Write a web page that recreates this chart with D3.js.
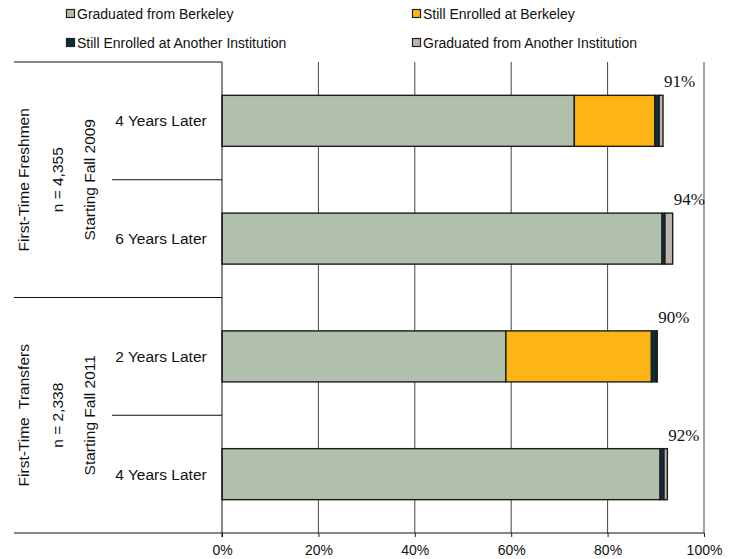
<!doctype html>
<html>
<head>
<meta charset="utf-8">
<style>
  body { margin: 0; background: #fff; }
  svg { font-family: "Liberation Sans", Arial, sans-serif; }
</style>
</head>
<body>
<div id="chart"></div>
<script src="https://cdnjs.cloudflare.com/ajax/libs/d3/7.8.5/d3.min.js"></script>
<script>
  // Data (percent of cohort)
  var rowLabels = ['4 Years Later', '6 Years Later', '2 Years Later', '4 Years Later']
  var groupNames = ['First-Time Freshmen', 'First-Time  Transfers']
  var groupCounts = ['n = 4,355', 'n = 2,338']
  var groupStarts = ['Starting Fall 2009', 'Starting Fall 2011']
  var seriesNames = ['Graduated from Berkeley', 'Still Enrolled at Berkeley',
                     'Still Enrolled at Another Institution', 'Graduated from Another Institution']
  var gradBerkeley = [73.1, 91.3, 58.9, 90.9]
  var stillBerkeley = [16.7, 0, 30.2, 0]
  var stillOther = [0.9, 0.6, 1.0, 0.8]
  var gradOther = [0.8, 1.6, 0.2, 0.7]
  var totalLabels = ['91%', '94%', '90%', '92%']
  var xTicks = [0, 20, 40, 60, 80, 100]

  var colors = ['#b0c0ad', '#fdb515', '#0a2f3f', '#bcb5ad']

  var width = 736, height = 559
  var plot = { left: 222, right: 704, top: 62, bottom: 533 }
  var outerLeft = 14, innerLeft = 112

  var svg = d3.select('#chart').append('svg')
    .attr('width', width)
    .attr('height', height)

  var rows = rowLabels.map((d, i) => ({
    i: i,
    label: d,
    s0: gradBerkeley[i], s1: stillBerkeley[i], s2: stillOther[i], s3: gradOther[i]
  }))

  var x = d3.scaleLinear().domain([0, 100]).range([plot.left, plot.right])
  var y = d3.scaleBand()
    .domain(rows.map(d => d.i))
    .range([plot.top, plot.bottom])
    .paddingInner(0.567)
    .paddingOuter(0.283)

  // band of each row without padding, for the separators
  var rowBand = d3.scaleBand().domain(rows.map(d => d.i)).range([plot.top, plot.bottom])

  // gridlines
  svg.append('g')
    .selectAll('line')
    .data(xTicks.filter(t => t > 0))
    .join('line')
    .attr('x1', d => x(d)).attr('x2', d => x(d))
    .attr('y1', plot.top).attr('y2', plot.bottom)
    .attr('stroke', d => d === 100 ? '#8c8c8c' : '#444')
    .attr('stroke-width', d => d === 100 ? 1.6 : 1)

  // stacked bars
  var stack = d3.stack().keys(['s0', 's1', 's2', 's3'])
  var series = stack(rows)

  svg.append('g')
    .selectAll('g')
    .data(series)
    .join('g')
    .attr('fill', (d, i) => colors[i])
    .selectAll('rect')
    .data(d => d.filter(p => p[1] - p[0] > 0))
    .join('rect')
    .attr('x', d => x(d[0]))
    .attr('width', d => x(d[1]) - x(d[0]))
    .attr('y', d => y(d.data.i))
    .attr('height', y.bandwidth())
    .attr('stroke', '#1c1c1c')
    .attr('stroke-width', 1.4)

  // total labels above bar ends
  svg.append('g')
    .selectAll('text')
    .data(rows)
    .join('text')
    .attr('x', d => x(d.s0 + d.s1 + d.s2 + d.s3) + 1)
    .attr('y', d => y(d.i) - 8)
    .attr('font-family', '"Liberation Serif", "Times New Roman", serif')
    .attr('font-size', 17)
    .attr('fill', '#111')
    .text((d, i) => totalLabels[i])

  // x axis
  var xAxis = svg.append('g')
    .attr('transform', `translate(0,${plot.bottom})`)
    .call(d3.axisBottom(x).tickValues(xTicks).tickFormat(d => d + '%').tickSize(4).tickPadding(8))
  xAxis.select('.domain').remove()
  xAxis.selectAll('.tick line').attr('stroke', '#222')
  xAxis.selectAll('.tick text')
    .attr('font-family', '"Liberation Sans", Arial, sans-serif')
    .attr('font-size', 14)
    .attr('fill', '#111')

  svg.append('line')
    .attr('x1', outerLeft).attr('x2', plot.right)
    .attr('y1', plot.bottom).attr('y2', plot.bottom)
    .attr('stroke', '#111')

  // left axis line
  svg.append('line')
    .attr('x1', plot.left).attr('x2', plot.left)
    .attr('y1', plot.top).attr('y2', plot.bottom + 4)
    .attr('stroke', '#111')

  // category separators: between rows inside a group, and between groups
  var innerSeps = [rowBand(0) + rowBand.bandwidth(), rowBand(2) + rowBand.bandwidth()]
  var outerSeps = [plot.top, rowBand(2)]
  svg.append('g')
    .selectAll('line.inner')
    .data(innerSeps)
    .join('line')
    .attr('x1', innerLeft).attr('x2', plot.left)
    .attr('y1', d => d).attr('y2', d => d)
    .attr('stroke', '#111')
  svg.append('g')
    .selectAll('line.outer')
    .data(outerSeps)
    .join('line')
    .attr('x1', outerLeft).attr('x2', plot.left)
    .attr('y1', d => d).attr('y2', d => d)
    .attr('stroke', '#111')

  // row labels
  svg.append('g')
    .selectAll('text')
    .data(rows)
    .join('text')
    .attr('x', 161)
    .attr('y', d => y(d.i) + y.bandwidth() / 2)
    .attr('dy', '0.35em')
    .attr('text-anchor', 'middle')
    .attr('font-size', 15.5)
    .attr('fill', '#111')
    .text(d => d.label)

  // rotated group labels
  var groupCenters = [
    (plot.top + rowBand(2)) / 2,
    (rowBand(2) + plot.bottom) / 2
  ]
  var groupText = [
    { col: 24, texts: groupNames },
    { col: 58, texts: groupCounts },
    { col: 90, texts: groupStarts }
  ]
  groupText.forEach(g => {
    svg.append('g')
      .selectAll('text')
      .data(g.texts)
      .join('text')
      .attr('transform', (d, i) => `translate(${g.col},${groupCenters[i]}) rotate(-90)`)
      .attr('dy', '0.35em')
      .attr('text-anchor', 'middle')
      .attr('font-size', 15.5)
      .attr('fill', '#111')
      .style('white-space', 'pre')
      .text(d => d)
  })

  // legend, two columns by two rows
  var legendX = [66, 412]
  var legendY = [14, 43]
  var legend = svg.append('g')
    .selectAll('g')
    .data(seriesNames)
    .join('g')
    .attr('transform', (d, i) => `translate(${legendX[i % 2]},${legendY[Math.floor(i / 2)]})`)
  legend.append('rect')
    .attr('x', 0.5).attr('y', -4.5)
    .attr('width', 8).attr('height', 8)
    .attr('fill', (d, i) => colors[i])
    .attr('stroke', '#222')
    .attr('stroke-width', 1.2)
  legend.append('text')
    .attr('x', 11)
    .attr('dy', '0.35em')
    .attr('font-size', 14)
    .attr('fill', '#111')
    .text(d => d)
</script>
</body>
</html>
